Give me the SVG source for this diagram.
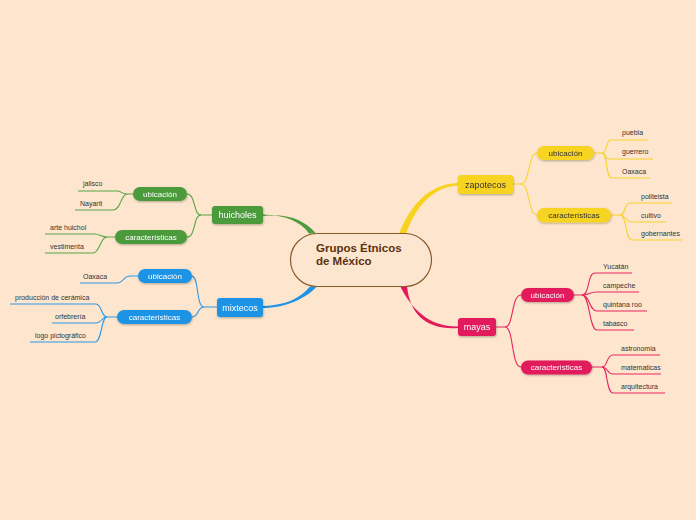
<svg xmlns="http://www.w3.org/2000/svg" width="696" height="520" viewBox="0 0 696 520">
<defs>
<filter id="sh" x="-20%" y="-30%" width="140%" height="170%">
<feDropShadow dx="0.5" dy="1" stdDeviation="0.8" flood-color="#000" flood-opacity="0.3"/>
</filter>
<style>
text{font-family:"Liberation Sans",Arial,sans-serif}
.leaf{font-size:7px;fill:#333}
.main{font-size:9px}
.sub{font-size:8px}
.w{fill:#fff}
.d{fill:#333}
.cy{fill:none;stroke:#f7d22c;stroke-width:1.1}
.cp{fill:none;stroke:#e6245e;stroke-width:1.1}
.cg{fill:none;stroke:#55a445;stroke-width:1.1}
.cb{fill:none;stroke:#2a97e8;stroke-width:1.1}
.ny{fill:#f7d320}
.np{fill:#e21a5c}
.ng{fill:#4c9b3e}
.nb{fill:#1f93e5}
</style>
</defs>
<rect width="696" height="520" fill="#fee6ce"/>

<g id="connectors">
<path d="M399 234 C410 206 428 184 458 183 L458 185.5 C432 187 415 208 406 234 Z" fill="#f7d320"/>
<path d="M400 286 C412 310 430 327 458 326.5 L458 328 C428 330 410 316 407 286 Z" fill="#e21a5c"/>
<path d="M263 214.5 C285 215 300 221 309 233.5 L316 233.5 C304 219 285 213 263 216 Z" fill="#4c9b3e"/>
<path d="M263 306 C285 305.5 301 298 310 286.5 L317 286.5 C305 299 285 308 263 308 Z" fill="#1f93e5"/>

<path class="cy" d="M513 184 H521 C530 184 528 153 537 153"/>
<path class="cy" d="M521 184 C530 184 528 215 537 215"/>
<path class="cy" d="M594 153 H602 C608 153 605 140 611 140 H648"/>
<path class="cy" d="M602 153 C606 153 604 159 609 159 H653"/>
<path class="cy" d="M602 153 C608 153 605 178 612 178 H650"/>
<path class="cy" d="M611 215 H620 C626 215 624 203 630 203 H672"/>
<path class="cy" d="M620 215 C626 215 626 222 632 222 H666"/>
<path class="cy" d="M620 215 C627 215 625 240 632 240 H682"/>

<path class="cp" d="M496 327 H505 C514 327 511 295 521 295"/>
<path class="cp" d="M505 327 C514 327 511 367 521 367"/>
<path class="cp" d="M574 295 H582 C590 295 587 273 595 273 H632"/>
<path class="cp" d="M582 295 C590 295 589 292 597 292 H639"/>
<path class="cp" d="M582 295 C590 295 589 311 597 311 H647"/>
<path class="cp" d="M582 295 C590 295 589 330 597 330 H634"/>
<path class="cp" d="M592 367 H602 C608 367 606 355 613 355 H660"/>
<path class="cp" d="M602 367 C608 367 607 374 613 374 H661"/>
<path class="cp" d="M602 367 C608 367 606 393 613 393 H665"/>

<path class="cg" d="M212 215 H201 C193 215 196 194 187 194"/>
<path class="cg" d="M201 215 C193 215 196 237 187 237"/>
<path class="cg" d="M133 194 H127 C121 194 122 191 117 191 H78"/>
<path class="cg" d="M127 194 C121 194 121 210 113 210 H75"/>
<path class="cg" d="M115 237 H107 C101 237 100 234 94 234 H45"/>
<path class="cg" d="M107 237 C100 237 100 253 93 253 H45"/>

<path class="cb" d="M217 307 H204 C196 307 199 276 192 276"/>
<path class="cb" d="M204 307 C197 307 199 317 192 317"/>
<path class="cb" d="M138 276 H130 C123 276 124 283 117 283 H80"/>
<path class="cb" d="M117 317 H107 C101 317 102 304 96 304 H10"/>
<path class="cb" d="M107 317 C101 317 102 323 96 323 H52"/>
<path class="cb" d="M107 317 C101 317 102 342 95 342 H30"/>
</g>

<g id="center">
<rect x="290.5" y="233.5" width="141" height="53" rx="26.5" fill="#fde6cf" stroke="#8a5a2c" stroke-width="1.2"/>
<text x="316" y="252" font-size="11.5" font-weight="bold" fill="#5a3210">Grupos Étnicos</text>
<text x="316" y="264.5" font-size="11.5" font-weight="bold" fill="#5a3210">de México</text>
</g>

<g id="zapotecos" filter="url(#sh)">
<rect class="ny" x="458" y="175" width="55" height="19" rx="3"/>
<text class="main d" x="485.5" y="187.5" text-anchor="middle">zapotecos</text>
</g>
<g id="zap-ubicacion" filter="url(#sh)">
<rect class="ny" x="537" y="146" width="57" height="14" rx="7"/>
<text class="sub d" x="565.5" y="155.8" text-anchor="middle">ubicación</text>
</g>
<g id="zap-caracteristicas" filter="url(#sh)">
<rect class="ny" x="537" y="208" width="74" height="14.5" rx="7"/>
<text class="sub d" x="574" y="218" text-anchor="middle">características</text>
</g>
<g id="zap-leaves">
<text class="leaf" x="622" y="135">puebla</text>
<text class="leaf" x="622" y="154">guerrero</text>
<text class="leaf" x="622" y="174">Oaxaca</text>
<text class="leaf" x="641" y="198.5">politeista</text>
<text class="leaf" x="641" y="217.5">cultivo</text>
<text class="leaf" x="641" y="236">gobernantes</text>
</g>

<g id="mayas" filter="url(#sh)">
<rect class="np" x="458" y="318" width="38" height="18" rx="3"/>
<text class="main w" x="477" y="330" text-anchor="middle">mayas</text>
</g>
<g id="mayas-ubicacion" filter="url(#sh)">
<rect class="np" x="521" y="288" width="53" height="14" rx="7"/>
<text class="sub w" x="547.5" y="297.8" text-anchor="middle">ubicación</text>
</g>
<g id="mayas-caracteristicas" filter="url(#sh)">
<rect class="np" x="521" y="360.5" width="71" height="14" rx="7"/>
<text class="sub w" x="556.5" y="370.3" text-anchor="middle">características</text>
</g>
<g id="mayas-leaves">
<text class="leaf" x="603" y="268.5">Yucatán</text>
<text class="leaf" x="603" y="287.5">campeche</text>
<text class="leaf" x="603" y="306.5">quintana roo</text>
<text class="leaf" x="603" y="325.5">tabasco</text>
<text class="leaf" x="621" y="350.5">astronomia</text>
<text class="leaf" x="621" y="369.5">matematicas</text>
<text class="leaf" x="621" y="388.5">arquitectura</text>
</g>

<g id="huicholes" filter="url(#sh)">
<rect class="ng" x="212" y="206" width="51" height="18" rx="3"/>
<text class="main w" x="237.5" y="218.2" text-anchor="middle">huicholes</text>
</g>
<g id="hui-ubicacion" filter="url(#sh)">
<rect class="ng" x="133" y="187" width="54" height="14" rx="7"/>
<text class="sub w" x="160" y="196.8" text-anchor="middle">ubicación</text>
</g>
<g id="hui-caracteristicas" filter="url(#sh)">
<rect class="ng" x="115" y="230" width="72" height="14" rx="7"/>
<text class="sub w" x="151" y="239.8" text-anchor="middle">características</text>
</g>
<g id="hui-leaves">
<text class="leaf" x="83" y="186">jalisco</text>
<text class="leaf" x="80" y="205.5">Nayarit</text>
<text class="leaf" x="50" y="229.5">arte huichol</text>
<text class="leaf" x="50" y="249">vestimenta</text>
</g>

<g id="mixtecos" filter="url(#sh)">
<rect class="nb" x="217" y="298" width="46" height="19" rx="3"/>
<text class="main w" x="240" y="310.5" text-anchor="middle">mixtecos</text>
</g>
<g id="mix-ubicacion" filter="url(#sh)">
<rect class="nb" x="138" y="269" width="54" height="14" rx="7"/>
<text class="sub w" x="165" y="278.8" text-anchor="middle">ubicación</text>
</g>
<g id="mix-caracteristicas" filter="url(#sh)">
<rect class="nb" x="117" y="310" width="75" height="14" rx="7"/>
<text class="sub w" x="154.5" y="319.8" text-anchor="middle">características</text>
</g>
<g id="mix-leaves">
<text class="leaf" x="83" y="278.5">Oaxaca</text>
<text class="leaf" x="15" y="299.5">producción de cerámica</text>
<text class="leaf" x="55" y="319">orfebrería</text>
<text class="leaf" x="35" y="338">logo pictográfico</text>
</g>
</svg>
